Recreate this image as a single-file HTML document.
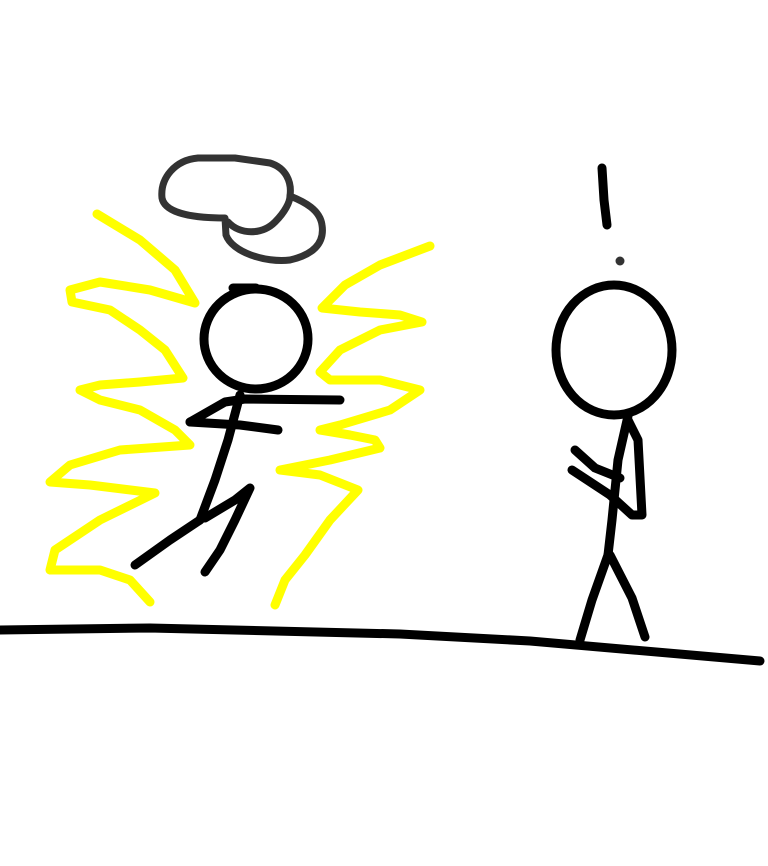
<!DOCTYPE html>
<html><head><style>html,body{margin:0;padding:0;background:#fff;}svg{display:block;}</style></head>
<body>
<svg width="768" height="866" viewBox="0 0 768 866" xmlns="http://www.w3.org/2000/svg">
<g fill="none" stroke-linecap="round" stroke-linejoin="round">
<!-- yellow aura -->
<g stroke="#ffff00" stroke-width="9">
<polyline points="97,214 140,240 175,270 195,303 150,290 100,282 70,290 72,302 110,310 140,330 165,350 183,378 140,382 100,385 80,390 100,400 140,410 175,430 190,445 120,450 70,465 50,482 90,485 155,493 100,520 55,550 50,570 100,570 130,580 150,602"/>
<polyline points="430,246 380,265 345,285 322,308 360,312 400,315 422,322 380,330 340,350 320,372 330,380 380,380 420,390 390,410 340,425 320,430 350,435 375,440 380,448 330,460 280,470 320,475 358,490 330,520 305,555 285,580 275,605"/>
</g>
<!-- cloud -->
<g stroke="#333" stroke-width="7">
<path d="M198,158 C175,160 160,178 162,198 C165,215 200,218 225,218 L226,235 C232,252 265,263 290,260 C312,255 325,244 322,225 C320,210 305,202 290,196 C292,182 286,168 270,163 L235,158 Z"/>
<path d="M228,222 C240,235 262,235 275,222 C285,212 290,202 290,196"/>
</g>
<g stroke="#000" stroke-width="9">
<!-- ground -->
<polyline points="0,630 150,628 400,634 530,641 760,661"/>
<!-- left figure -->
<ellipse cx="256" cy="339" rx="52" ry="50"/>
<line x1="233" y1="288" x2="256" y2="288"/>
<polyline points="240,395 228,440 215,480 200,520"/>
<polyline points="190,422 225,402 245,399 340,400"/>
<polyline points="190,422 240,425 278,430"/>
<polyline points="200,520 170,540 135,565"/>
<polyline points="205,518 235,500 250,488 235,520 220,550 205,572"/>
<!-- right figure -->
<ellipse cx="614" cy="350" rx="58" ry="65"/>
<polyline points="628,416 618,460 612,520 608,555"/>
<polyline points="608,555 592,600 580,640"/>
<polyline points="610,555 632,598 645,637"/>
<polyline points="628,420 638,440 642,515 632,515 610,495 572,470"/>
<polyline points="575,450 595,468 620,478"/>
<polyline points="602,168 604,200 607,225"/>
</g>
<circle cx="620" cy="261" r="4.5" fill="#333"/>
</g>
</svg>
</body></html>
